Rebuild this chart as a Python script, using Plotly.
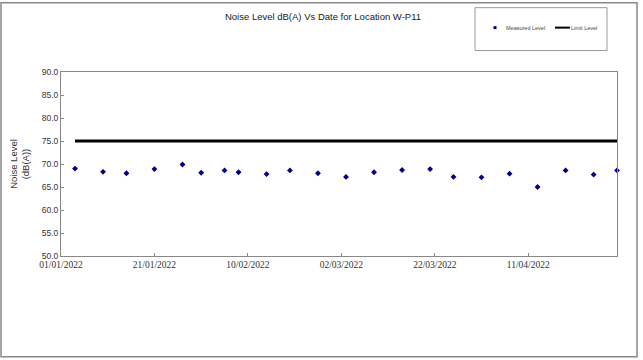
import plotly.graph_objects as go

# Data
dates = ["2022-01-04", "2022-01-10", "2022-01-15", "2022-01-21", "2022-01-27",
         "2022-01-31", "2022-02-05", "2022-02-08", "2022-02-14", "2022-02-19",
         "2022-02-25", "2022-03-03", "2022-03-09", "2022-03-15", "2022-03-21",
         "2022-03-26", "2022-04-01", "2022-04-07", "2022-04-13", "2022-04-19",
         "2022-04-25", "2022-04-30"]
measured = [69.0, 68.3, 68.0, 68.9, 69.9, 68.1, 68.6, 68.2, 67.8, 68.6,
            68.0, 67.2, 68.2, 68.7, 68.9, 67.2, 67.1, 67.9, 65.0, 68.6,
            67.7, 68.6]
limit_dates = ["2022-01-04", "2022-04-30"]
limit_level = [75, 75]
tick_dates = ["2022-01-01", "2022-01-21", "2022-02-10", "2022-03-02", "2022-03-22", "2022-04-11"]
tick_labels = ["01/01/2022", "21/01/2022", "10/02/2022", "02/03/2022", "22/03/2022", "11/04/2022"]
y_ticks = [50, 55, 60, 65, 70, 75, 80, 85, 90]
series_names = ["Measured Level", "Limit Level"]

# pixel -> paper helpers (plot area: x 61..617, y 71.5..256)
def px(x):
    return (x - 61) / 556

def py(y):
    return (256 - y) / 184.5

fig = go.Figure()
fig.add_trace(go.Scatter(
    x=dates, y=measured, mode="markers", name=series_names[0],
    marker=dict(symbol="diamond", size=4.5, color="#000080"),
    cliponaxis=False, showlegend=False))
fig.add_trace(go.Scatter(
    x=limit_dates, y=limit_level, mode="lines", name=series_names[1],
    line=dict(color="black", width=3), cliponaxis=False, showlegend=False))

legend_y = py(27)
fig.update_layout(
    width=643, height=360,
    margin=dict(l=61, r=26, t=71.5, b=104, autoexpand=False),
    paper_bgcolor="white", plot_bgcolor="white",
    font=dict(family="Arial, Liberation Sans", color="#222"),
    title=dict(text="Noise Level dB(A) Vs Date for Location W-P11",
               x=323 / 643, xanchor="center", y=1 - 17 / 360, yanchor="middle",
               font=dict(size=9.5, color="#222")),
    showlegend=False,
    xaxis=dict(type="date", range=["2022-01-01", "2022-04-30"],
               tickvals=tick_dates, ticktext=tick_labels,
               ticks="inside", ticklen=3, tickcolor="#888",
               showline=True, linecolor="#888", linewidth=1, mirror=True,
               showgrid=False, zeroline=False,
               tickfont=dict(family="Liberation Serif", size=9.5, color="#333")),
    yaxis=dict(range=[50, 90], tickvals=y_ticks,
               ticktext=[f"{v:.1f}" for v in y_ticks],
               ticks="inside", ticklen=3, tickcolor="#888",
               showline=True, linecolor="#888", linewidth=1, mirror=True,
               showgrid=False, zeroline=False,
               tickfont=dict(size=8.5, color="#333"),
               title=dict(text="Noise Level<br>(dB(A))", standoff=10,
                          font=dict(size=9.5, color="#333"))),
    annotations=[
        dict(text=series_names[0], xref="paper", yref="paper",
             x=px(504), y=legend_y, xanchor="left", yanchor="middle",
             showarrow=False, font=dict(size=5.5, color="#444")),
        dict(text=series_names[1], xref="paper", yref="paper",
             x=px(569), y=legend_y, xanchor="left", yanchor="middle",
             showarrow=False, font=dict(size=5.5, color="#444")),
    ],
    shapes=[
        # outer chart border
        dict(type="rect", xref="paper", yref="paper",
             x0=px(1), x1=px(637), y0=py(357), y1=py(2),
             line=dict(color="#888", width=1.5)),
        # legend box
        dict(type="rect", xref="paper", yref="paper",
             x0=px(475), x1=px(607), y0=py(50), y1=py(7),
             line=dict(color="#999", width=1)),
        # legend key: marker
        dict(type="rect", xref="paper", yref="paper",
             x0=px(493.5), x1=px(496.5), y0=py(28.5), y1=py(25.5),
             fillcolor="#000080", line=dict(width=0)),
        # legend key: line
        dict(type="line", xref="paper", yref="paper",
             x0=px(555), x1=px(570), y0=legend_y, y1=legend_y,
             line=dict(color="black", width=2)),
    ],
)

fig.write_html("out.html")
